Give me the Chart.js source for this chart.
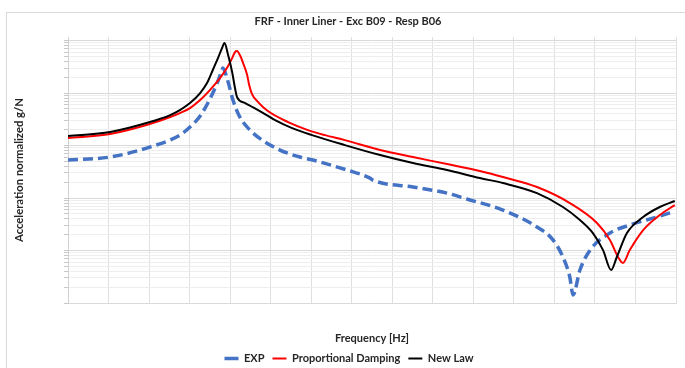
<!DOCTYPE html>
<html>
<head>
<meta charset="utf-8">
<script src="https://cdn.jsdelivr.net/npm/chart.js@4.4.1/dist/chart.umd.min.js"></script>
<style>
  html, body { margin: 0; padding: 0; background: #fff; overflow: hidden; }
  #wrap { position: relative; width: 685px; height: 374px; }
  #frame { position: absolute; left: 6px; top: 12px; width: 700px; height: 400px; border: 1px solid #d9d9d9; pointer-events: none; }
</style>
</head>
<body>
<div id="wrap">
  <canvas id="frf"></canvas>
  <div id="frame"></div>
</div>
<script>
// FRF curves (frequency in Hz, acceleration in g/N)
var expFreq = [0, 104, 202, 276, 301, 326, 350, 368, 380, 382, 395, 407, 424, 449, 479, 523, 572, 604, 688, 745, 752, 851, 935, 984, 1073, 1157, 1197, 1221, 1238, 1246, 1263, 1288, 1337, 1386, 1453, 1492];
var expVal = [0.530, 0.604, 0.936, 1.58, 2.25, 3.65, 7.69, 15.5, 27.4, 29.9, 16.2, 7.36, 3.49, 1.97, 1.27, 0.821, 0.604, 0.530, 0.342, 0.240, 0.220, 0.162, 0.124, 0.0957, 0.0591, 0.0280, 0.0158, 0.00752, 0.00313, 0.00142, 0.00426, 0.0102, 0.0215, 0.0306, 0.0435, 0.0541];

var propFreq = [0, 104, 202, 252, 276, 301, 326, 350, 375, 392, 405, 412, 417, 424, 432, 442, 447, 454, 469, 493, 543, 592, 634, 683, 770, 851, 935, 1016, 1073, 1157, 1238, 1305, 1337, 1357, 1369, 1386, 1419, 1460, 1497];
var propVal = [1.39, 1.66, 2.57, 3.49, 4.16, 5.18, 7.36, 11.4, 19.3, 29.9, 46.4, 60.4, 63.1, 53.0, 37.3, 22.0, 14.2, 9.58, 6.74, 4.54, 2.80, 1.97, 1.58, 1.27, 0.821, 0.604, 0.444, 0.327, 0.251, 0.162, 0.0803, 0.0334, 0.0158, 0.00752, 0.00578, 0.0102, 0.0245, 0.0475, 0.0735];

var newFreq = [0, 104, 202, 252, 276, 301, 326, 343, 358, 370, 380, 386, 395, 405, 412, 417, 437, 469, 511, 553, 602, 683, 770, 851, 935, 1016, 1073, 1157, 1221, 1263, 1295, 1320, 1340, 1354, 1379, 1419, 1460, 1497];
var newVal = [1.52, 1.81, 2.80, 3.81, 4.74, 6.45, 10.0, 15.5, 28.4, 46.4, 71.9, 89.6, 53.0, 25.1, 12.4, 8.39, 6.45, 4.74, 3.06, 2.15, 1.58, 1.02, 0.659, 0.464, 0.342, 0.240, 0.193, 0.124, 0.0675, 0.0381, 0.0215, 0.0102, 0.00426, 0.00752, 0.0215, 0.0435, 0.0675, 0.0877];

var seriesNames = ["EXP", "Proportional Damping", "New Law"];
var yMin = 0.001, yMax = 117;

function pts(fs, vs) {
  var out = [];
  for (var i = 0; i < fs.length; i++) out.push({ x: fs[i], y: vs[i] });
  return out;
}

// log grid like excel: 1..9 in every decade
function logTicks(scale) {
  var t = [];
  for (var e = -3; e <= 2; e++) {
    for (var m = 1; m <= 9; m++) {
      var v = m * Math.pow(10, e);
      if (v >= yMin && v <= yMax) t.push({ value: v, major: m === 1 });
    }
  }
  scale.ticks = t;
}

var font = "Lato, 'Open Sans', sans-serif";
Chart.defaults.font.family = font;
Chart.defaults.color = "#262626";

// title and legend sit a bit right of centre in the original
var shiftBoxes = {
  id: "shiftBoxes",
  afterLayout: function (chart) {
    chart.legend.left += 11;
    chart.legend.right += 11;
    chart.titleBlock.left += 10;
    chart.titleBlock.right += 10;
  }
};

new Chart(document.getElementById("frf"), {
  type: "line",
  data: {
    datasets: [
      { label: seriesNames[0], data: pts(expFreq, expVal), borderColor: "#4472C4", backgroundColor: "#4472C4",
        borderWidth: 3.5, borderDash: [10, 5], pointRadius: 0, cubicInterpolationMode: "monotone", order: 3 },
      { label: seriesNames[1], data: pts(propFreq, propVal), borderColor: "#FF0000", backgroundColor: "#FF0000",
        borderWidth: 2, pointRadius: 0, cubicInterpolationMode: "monotone", order: 2 },
      { label: seriesNames[2], data: pts(newFreq, newVal), borderColor: "#000000", backgroundColor: "#000000",
        borderWidth: 2, pointRadius: 0, cubicInterpolationMode: "monotone", order: 1 }
    ]
  },
  options: {
    responsive: true,
    maintainAspectRatio: false,
    animation: false,
    layout: { padding: { left: 0, right: 9, top: 0, bottom: 0 } },
    plugins: {
      title: {
        display: true,
        text: "FRF - Inner Liner - Exc B09 - Resp B06",
        font: { size: 11, weight: "bold" },
        color: "#262626",
        padding: { top: 14.5, bottom: 9.3 }
      },
      legend: {
        position: "bottom",
        labels: {
          usePointStyle: true,
          pointStyle: "line",
          pointStyleWidth: 14,
          padding: 8,
          font: { size: 11, weight: "bold" },
          color: "#262626",
          sort: function (a, b) { return a.datasetIndex - b.datasetIndex; }
        }
      },
      tooltip: { enabled: false }
    },
    scales: {
      x: {
        type: "linear",
        min: 0,
        max: 1500,
        ticks: { display: false, stepSize: 100 },
        grid: { color: "#e0e0e0", drawTicks: false },
        border: { color: "#d9d9d9" },
        title: { display: true, text: "Frequency [Hz]", font: { size: 11, weight: "bold" }, color: "#262626", padding: { top: 0, bottom: 0 } },
        afterFit: function (s) { s.height = 42; }
      },
      y: {
        type: "logarithmic",
        min: yMin,
        max: yMax,
        afterBuildTicks: logTicks,
        ticks: { display: false },
        grid: {
          color: function (c) { return c.tick && c.tick.major ? "#d9d9d9" : "#eeeeee"; },
          tickColor: "#c8c8c8",
          tickLength: 4
        },
        border: { color: "#d0d0d0" },
        title: { display: true, text: "Acceleration normalized g/N", font: { size: 11.3, weight: "bold" }, color: "#262626", padding: { top: 13, bottom: 0 } },
        afterFit: function (s) { s.width = 68; }
      }
    }
  },
  plugins: [shiftBoxes]
});
</script>
</body>
</html>
